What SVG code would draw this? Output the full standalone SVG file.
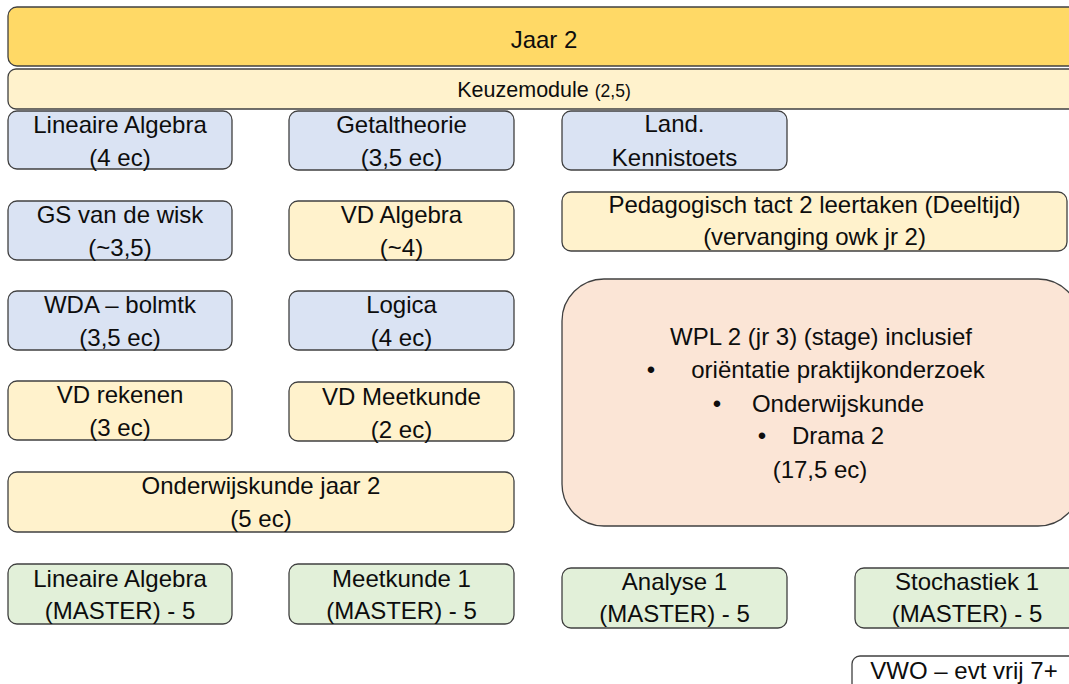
<svg xmlns="http://www.w3.org/2000/svg" width="1069" height="684" viewBox="0 0 1069 684">
<style>
rect{stroke:#404040;stroke-width:1.3}
.gold{fill:#ffd966}
.yel{fill:#fff2cc}
.blue{fill:#dae3f3}
.grn{fill:#e2f0d9}
.peach{fill:#fbe5d6}
.wht{fill:#ffffff}
text{font-family:"Liberation Sans",Arial,sans-serif;font-size:24px;fill:#0d0d0d;text-anchor:middle}
.sm{font-size:21.5px}
.xs{font-size:17.5px}
</style>
<rect width="1069" height="684" fill="#ffffff" style="stroke:none"/>
<g id="jaar2"><rect class="gold" x="8" y="7" width="1072" height="59" rx="9"/><text x="544" y="48">Jaar 2</text></g>
<g id="keuzemodule"><rect class="yel" x="8" y="69" width="1072" height="40" rx="8"/><text x="544" y="97"><tspan class="sm">Keuzemodule </tspan><tspan class="xs">(2,5)</tspan></text></g>
<g id="lin-alg"><rect class="blue" x="8" y="111" width="224" height="58" rx="9"/><text x="120" y="133">Lineaire Algebra</text><text x="120" y="166">(4 ec)</text></g>
<g id="getaltheorie"><rect class="blue" x="289" y="111" width="225" height="59" rx="9"/><text x="401.5" y="133">Getaltheorie</text><text x="401.5" y="166">(3,5 ec)</text></g>
<g id="kennistoets"><rect class="blue" x="562" y="111" width="225" height="59" rx="9"/><text x="674.5" y="132">Land.</text><text x="674.5" y="166">Kennistoets</text></g>
<g id="pedagogisch"><rect class="yel" x="562" y="192" width="505" height="59" rx="9"/><text x="814.5" y="213">Pedagogisch tact 2 leertaken (Deeltijd)</text><text x="814.5" y="245">(vervanging owk jr 2)</text></g>
<g id="gs-wisk"><rect class="blue" x="8" y="201" width="224" height="59" rx="9"/><text x="120" y="223">GS van de wisk</text><text x="120" y="256">(~3,5)</text></g>
<g id="vd-algebra"><rect class="yel" x="289" y="201" width="225" height="59" rx="9"/><text x="401.5" y="223">VD Algebra</text><text x="401.5" y="256">(~4)</text></g>
<g id="wda"><rect class="blue" x="8" y="291" width="224" height="59" rx="9"/><text x="120" y="313">WDA – bolmtk</text><text x="120" y="346">(3,5 ec)</text></g>
<g id="logica"><rect class="blue" x="289" y="291" width="225" height="59" rx="9"/><text x="401.5" y="313">Logica</text><text x="401.5" y="346">(4 ec)</text></g>
<g id="vd-rekenen"><rect class="yel" x="8" y="381" width="224" height="59" rx="9"/><text x="120" y="403">VD rekenen</text><text x="120" y="436">(3 ec)</text></g>
<g id="vd-meetkunde"><rect class="yel" x="289" y="382" width="225" height="59" rx="9"/><text x="401.5" y="405">VD Meetkunde</text><text x="401.5" y="438">(2 ec)</text></g>
<g id="owk"><rect class="yel" x="8" y="472" width="506" height="60" rx="9"/><text x="261" y="494">Onderwijskunde jaar 2</text><text x="261" y="527">(5 ec)</text></g>
<g id="wpl"><rect class="peach" x="562" y="279" width="518" height="247" rx="42"/>
<text x="821" y="345">WPL 2 (jr 3) (stage) inclusief</text>
<text x="651" y="378">•</text><text x="838" y="378">oriëntatie praktijkonderzoek</text>
<text x="717" y="412">•</text><text x="838" y="412">Onderwijskunde</text>
<text x="762" y="444">•</text><text x="838" y="444">Drama 2</text>
<text x="820" y="478">(17,5 ec)</text></g>
<g id="lin-alg-master"><rect class="grn" x="8" y="564" width="224" height="60" rx="9"/><text x="120" y="587">Lineaire Algebra</text><text x="120" y="619">(MASTER) - 5</text></g>
<g id="meetkunde1"><rect class="grn" x="289" y="564" width="225" height="60" rx="9"/><text x="401.5" y="587">Meetkunde 1</text><text x="401.5" y="619">(MASTER) - 5</text></g>
<g id="analyse1"><rect class="grn" x="562" y="568" width="225" height="60" rx="9"/><text x="674.5" y="590">Analyse 1</text><text x="674.5" y="622">(MASTER) - 5</text></g>
<g id="stochastiek1"><rect class="grn" x="855" y="568" width="225" height="60" rx="9"/><text x="967" y="590">Stochastiek 1</text><text x="967" y="622">(MASTER) - 5</text></g>
<g id="vwo"><rect class="wht" x="852" y="656" width="226" height="50" rx="8"/><text x="964" y="679">VWO – evt vrij 7+</text></g>
<g id="connectors"></g>
</svg>
